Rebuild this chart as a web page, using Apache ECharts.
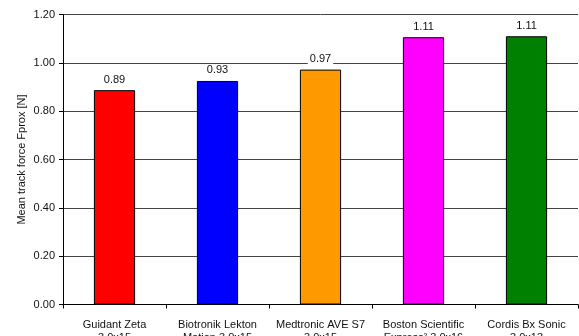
<!DOCTYPE html>
<html><head><meta charset="utf-8">
<script src="https://cdn.jsdelivr.net/npm/echarts@6/dist/echarts.min.js"></script>
<style>html,body{margin:0;padding:0;background:#fff}#c{width:579px;height:336px}</style>
</head><body><div id="c"></div>
<script>
const categories = ["Guidant Zeta\n3.0x15", "Biotronik Lekton\nMotion 3.0x15", "Medtronic AVE S7\n3.0x15", "Boston Scientific\nExpress² 3.0x16", "Cordis Bx Sonic\n3.0x13"];
const values = [0.887, 0.925, 0.972, 1.106, 1.110];
const colors = ["#ff0000", "#0000ff", "#ff9900", "#ff00ff", "#008000"];
const yTicks = [0, 0.2, 0.4, 0.6, 0.8, 1.0, 1.2];
const yName = "Mean track force Fprox [N]";

const chart = echarts.init(document.getElementById('c'));
chart.setOption({
  animation: false,
  textStyle: {fontFamily: 'Liberation Sans, Arial, sans-serif'},
  grid: {left: 63, right: 1, top: 14.5, bottom: 31.5, containLabel: false, outerBoundsMode: 'none'},
  xAxis: {
    type: 'category', data: categories,
    axisLine: {lineStyle: {color: '#000', width: 1}},
    axisTick: {show: true, length: 4, lineStyle: {color: '#000'}},
    axisLabel: {color: '#111', fontSize: 11, margin: 14, lineHeight: 13, interval: 0}
  },
  yAxis: {
    type: 'value', min: yTicks[0], max: yTicks[yTicks.length-1], interval: 0.2,
    name: yName, nameLocation: 'middle', nameGap: 36, nameMoveOverlap: false,
    nameTextStyle: {fontSize: 11, color: '#111'},
    axisLine: {show: true, lineStyle: {color: '#000', width: 1}},
    axisTick: {show: true, length: 4, lineStyle: {color: '#000'}},
    axisLabel: {color: '#111', fontSize: 11, margin: 8, formatter: v => v.toFixed(2)},
    splitLine: {show: true, lineStyle: {color: '#444', width: 1}}
  },
  series: [{
    type: 'bar', barWidth: '40%',
    data: values.map((v, i) => ({value: v, itemStyle: {color: colors[i]}})),
    itemStyle: {borderColor: '#000', borderWidth: 1},
    label: {show: true, position: 'top', distance: 5, fontSize: 11, color: '#111',
      backgroundColor: '#fff', padding: [0, 2], formatter: p => p.value.toFixed(2)}
  }]
});
</script></body></html>
